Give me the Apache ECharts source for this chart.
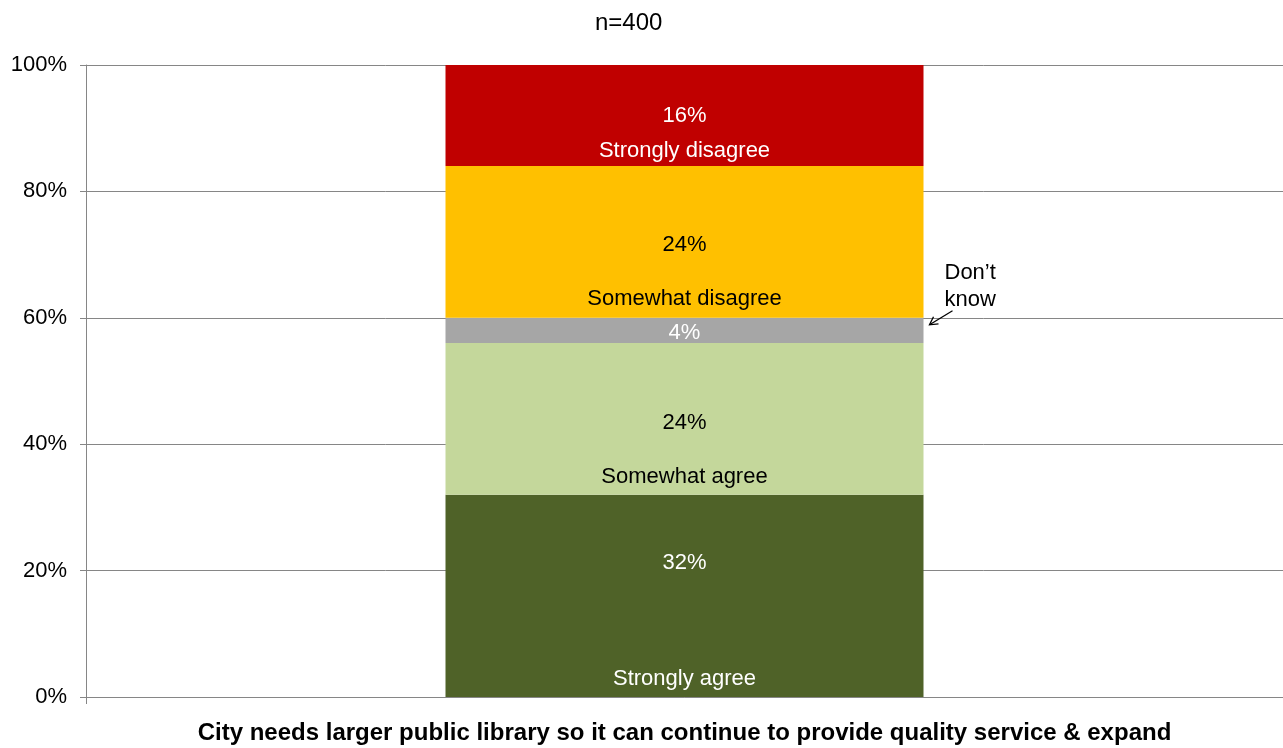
<!DOCTYPE html>
<html><head><meta charset="utf-8">
<script src="https://cdn.jsdelivr.net/npm/echarts@6/dist/echarts.min.js"></script>
<style>html,body{margin:0;padding:0;background:#fff}#c{width:1283px;height:748px}</style>
</head><body><div id="c"></div>
<script>
const categories = ['City needs larger public library so it can continue to provide quality service & expand'];
const seriesNames = ['Strongly agree', 'Somewhat agree', 'Don\u2019t know', 'Somewhat disagree', 'Strongly disagree'];
const stronglyAgree = [32];
const somewhatAgree = [24];
const dontKnow = [4];
const somewhatDisagree = [24];
const stronglyDisagree = [16];
const yTicks = [0, 20, 40, 60, 80, 100];
const sampleTitle = 'n=400';

const values = [stronglyAgree, somewhatAgree, dontKnow, somewhatDisagree, stronglyDisagree];
const colors = ['#4F6228', '#C4D79B', '#A6A6A6', '#FFC000', '#C00000'];
const pctColors = ['#fff', '#000', '#fff', '#000', '#fff'];
const pctOffsets = [[0, -33], [0, 4], [0, 2], [0, 3], [0, 0]];
const nameColors = ['#fff', '#000', '#fff', '#000', '#fff'];
const nameDistances = [7, 7, 7, 8, 4];
const FONT = 'Liberation Sans, Arial, sans-serif';

const series = [];
values.forEach((v, i) => {
  series.push({
    name: seriesNames[i], type: 'bar', stack: 'a', xAxisIndex: 0, barWidth: 478,
    data: v, itemStyle: { color: colors[i] },
    label: { show: true, position: 'inside', offset: pctOffsets[i], formatter: p => p.value + '%',
      color: pctColors[i], fontSize: 22, fontFamily: FONT }
  });
});
values.forEach((v, i) => {
  series.push({
    name: seriesNames[i] + ' label', type: 'bar', stack: 'b', xAxisIndex: 1, barWidth: 478, silent: true,
    data: v, itemStyle: { color: 'rgba(0,0,0,0)' },
    label: { show: i !== 2, position: 'insideBottom', distance: nameDistances[i], formatter: () => seriesNames[i],
      color: nameColors[i], fontSize: 22, fontFamily: FONT }
  });
});

const chart = echarts.init(document.getElementById('c'));
chart.setOption({
  animation: false,
  title: { text: sampleTitle, left: 590, top: 6, textStyle: { fontSize: 24, fontWeight: 'normal', color: '#000', fontFamily: FONT } },
  grid: { left: 86, right: 0, top: 65, bottom: 51 },
  xAxis: [
    { type: 'category', data: categories,
      axisLine: { lineStyle: { color: '#868686', width: 1 } },
      axisTick: { show: true, alignWithLabel: false, length: 7, lineStyle: { color: '#868686' } },
      axisLabel: { margin: 24, fontSize: 24, fontWeight: 'bold', color: '#000', fontFamily: FONT } },
    { type: 'category', data: categories, show: false }
  ],
  yAxis: { type: 'value', min: yTicks[0], max: yTicks[yTicks.length - 1], interval: yTicks[1] - yTicks[0],
    axisLine: { show: true, lineStyle: { color: '#868686', width: 1 } },
    axisTick: { show: true, length: 6, lineStyle: { color: '#868686' } },
    splitLine: { lineStyle: { color: '#868686', width: 1 } },
    axisLabel: { formatter: '{value}%', margin: 19, padding: [5, 0, 0, 0], fontSize: 22, color: '#000', fontFamily: FONT } },
  series: series
});

// "Don't know" annotation anchored to the segment's top edge
const topDK = stronglyAgree[0] + somewhatAgree[0] + dontKnow[0];
const pt = chart.convertToPixel({ xAxisIndex: 0, yAxisIndex: 0 }, [0, topDK]);
const barRight = pt[0] + 239;
const tipX = barRight + 6, tipY = pt[1] + 7;
const tailX = tipX + 23, tailY = tipY - 14;
chart.setOption({
  graphic: [
    { type: 'text', left: barRight + 21, top: pt[1] - 58,
      style: { text: 'Don\u2019t\nknow', fill: '#000', font: '22px ' + FONT, textAlign: 'center', lineHeight: 27 } },
    { type: 'line', shape: { x1: tailX, y1: tailY, x2: tipX, y2: tipY }, style: { stroke: '#000', lineWidth: 1.3 } },
    { type: 'polyline', shape: { points: [[tipX + 9, tipY - 1], [tipX, tipY], [tipX + 4, tipY - 8]] }, style: { stroke: '#000', lineWidth: 1.3, fill: null } }
  ]
});
</script></body></html>
